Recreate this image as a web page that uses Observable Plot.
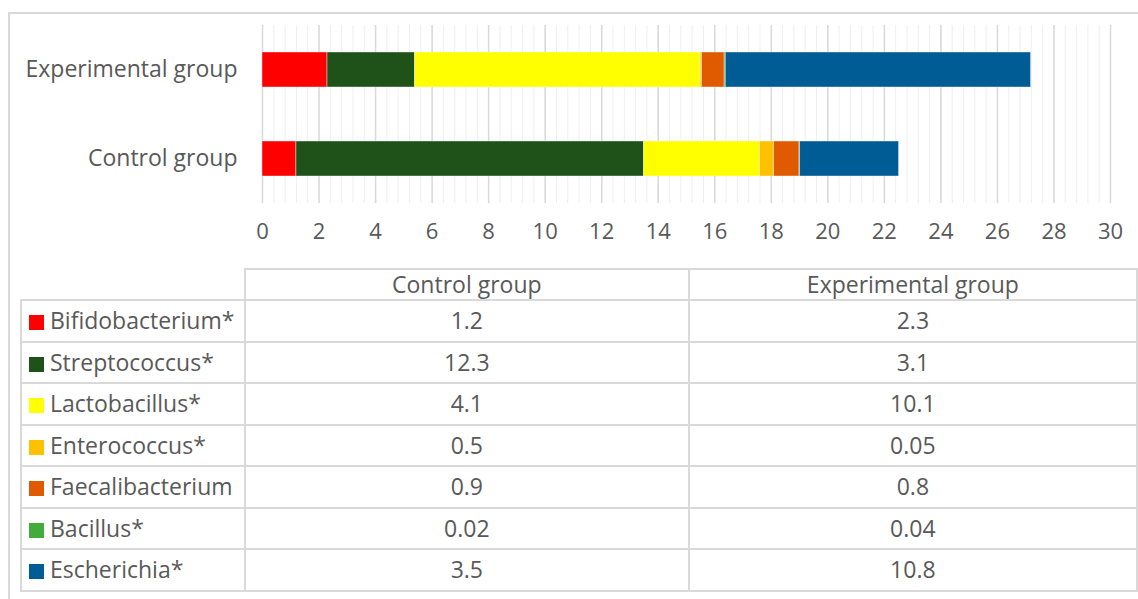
<!DOCTYPE html>
<html>
<head>
<meta charset="utf-8">
<script src="https://cdn.jsdelivr.net/npm/d3@7"></script>
<script src="https://cdn.jsdelivr.net/npm/@observablehq/plot@0.6"></script>
<style>
  html, body { margin: 0; padding: 0; background: #fff; }
  #wrap { position: relative; width: 1138px; height: 599px; overflow: hidden; font-family: "Open Sans", Lato, sans-serif; color: #595959; }
  #frame { position: absolute; left: 8px; top: 12px; width: 1200px; height: 700px; border: 2px solid #d9d9d9; box-sizing: border-box; }
  #chart { position: absolute; left: 0; top: 0; }
  #tbl { position: absolute; left: 20px; top: 268px; border-collapse: collapse; table-layout: fixed; font-size: 23px; }
  #tbl td { border: 2px solid #d9d9d9; padding: 0; text-align: center; white-space: nowrap; overflow: hidden; }
  #tbl tr.hdr td { height: 29px; line-height: 29px; }
  #tbl tr.row td { height: 39.5px; line-height: 39.5px; }
  #tbl td.lab { text-align: left; padding-left: 7px; }
  #tbl td.corner { border-top: none; border-left: none; }
  .sw { display: inline-block; width: 15px; height: 15px; margin-right: 6px; vertical-align: -1px; }
</style>
</head>
<body>
<div id="wrap">
  <div id="frame"></div>
  <div id="chart"></div>
  <table id="tbl"></table>
</div>
<script>
// ---- data ----
const groups = ["Control group", "Experimental group"];
const species = ["Bifidobacterium*", "Streptococcus*", "Lactobacillus*", "Enterococcus*", "Faecalibacterium", "Bacillus*", "Escherichia*"];
const controlValues = [1.2, 12.3, 4.1, 0.5, 0.9, 0.02, 3.5];
const experimentalValues = [2.3, 3.1, 10.1, 0.05, 0.8, 0.04, 10.8];
const colors = ["#ff0000", "#1f5219", "#ffff00", "#ffc000", "#e05a00", "#42ab3c", "#005c94"];
const controlLabels = ["1.2", "12.3", "4.1", "0.5", "0.9", "0.02", "3.5"];
const experimentalLabels = ["2.3", "3.1", "10.1", "0.05", "0.8", "0.04", "10.8"];
const xTicks = d3.range(0, 31, 2);
const minorTicks = d3.range(0, 30.01, 0.4);

const rows = [];
species.forEach((s, i) => {
  rows.push({group: "Control group", species: s, value: controlValues[i]});
  rows.push({group: "Experimental group", species: s, value: experimentalValues[i]});
});

const chart = Plot.plot({
  width: 1138,
  height: 260,
  marginLeft: 262,
  marginRight: 28,
  marginTop: 25,
  marginBottom: 57,
  style: {fontFamily: "'Open Sans', Lato, sans-serif", fontSize: "22px", color: "#595959", background: "transparent", overflow: "visible"},
  x: {domain: [0, 30], ticks: xTicks, tickSize: 0, tickPadding: 20, label: null},
  y: {domain: ["Experimental group", "Control group"], paddingInner: 0.607, paddingOuter: 0.3035, tickSize: 0, tickPadding: 26, label: null},
  color: {domain: species, range: colors},
  marks: [
    Plot.ruleX(minorTicks, {stroke: "#efefef", strokeWidth: 1}),
    Plot.ruleX(xTicks, {stroke: "#d9d9d9", strokeWidth: 1.5}),
    Plot.barX(rows, Plot.stackX({x: "value", y: "group", fill: "species", order: species, stroke: "#ffffff", strokeOpacity: 0.5, strokeWidth: 0.8})),
    Plot.axisX({ticks: xTicks, tickSize: 0, tickPadding: 20, fill: "#595959", fontSize: 22}),
    Plot.axisY({tickSize: 0, tickPadding: 25, fill: "#595959", fontSize: 23})
  ]
});
document.getElementById("chart").appendChild(chart);

// ---- data table ----
const tbl = document.getElementById("tbl");
const colg = document.createElement("colgroup");
[224, 446, 450].forEach(w => { const c = document.createElement("col"); c.style.width = w + "px"; colg.appendChild(c); });
tbl.appendChild(colg);
const hdr = document.createElement("tr");
hdr.className = "hdr";
const corner = document.createElement("td");
corner.className = "corner";
hdr.appendChild(corner);
groups.forEach(g => { const td = document.createElement("td"); td.textContent = g; hdr.appendChild(td); });
tbl.appendChild(hdr);
species.forEach((s, i) => {
  const tr = document.createElement("tr");
  tr.className = "row";
  const lab = document.createElement("td");
  lab.className = "lab";
  const sw = document.createElement("span");
  sw.className = "sw";
  sw.style.background = colors[i];
  lab.appendChild(sw);
  lab.appendChild(document.createTextNode(s));
  tr.appendChild(lab);
  [controlLabels[i], experimentalLabels[i]].forEach(v => { const td = document.createElement("td"); td.textContent = v; tr.appendChild(td); });
  tbl.appendChild(tr);
});
</script>
</body>
</html>
